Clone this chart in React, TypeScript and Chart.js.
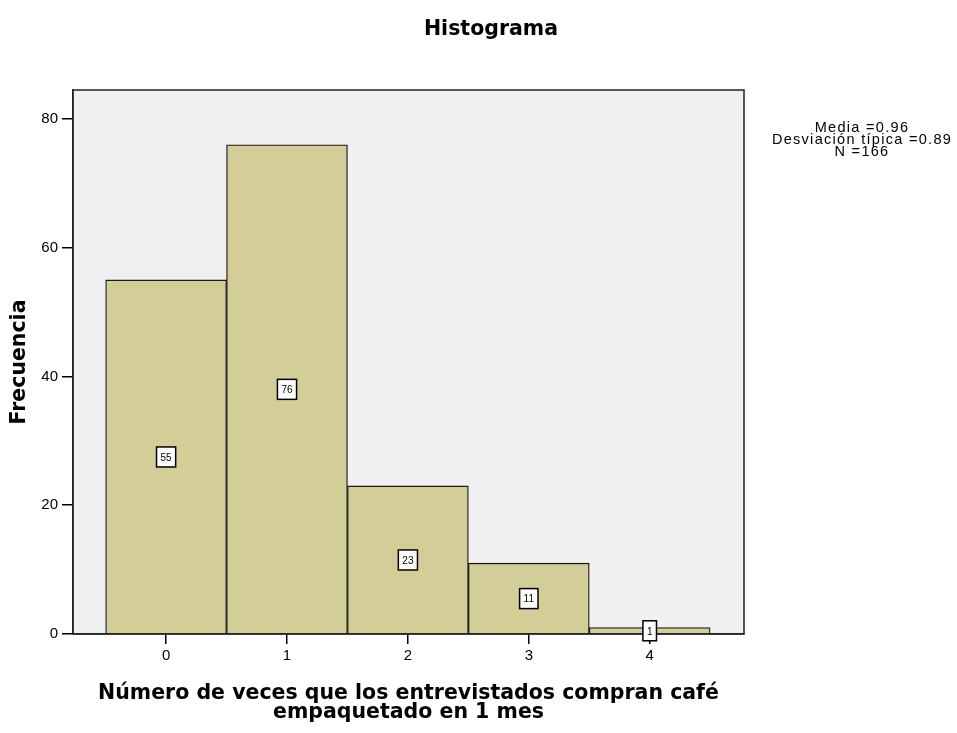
import React, { useEffect, useRef } from "react";
import { Chart, registerables } from "chart.js";

Chart.register(...registerables);

const categories = [0, 1, 2, 3, 4];
const frequencies = [55, 76, 23, 11, 1];
const yTicks = [0, 20, 40, 60, 80];
const titleText = "Histograma";
const yTitle = "Frecuencia";
const xTitleLines = ["Número de veces que los entrevistados compran café", "empaquetado en 1 mes"];
const statsLines = ["Media =0.96", "Desviación típica =0.89", "N =166"];

const FONT = "'Liberation Sans', Arial, sans-serif";
const WIDE = "'DejaVu Sans', Verdana, sans-serif";

export default function App() {
  const ref = useRef<HTMLCanvasElement>(null);
  useEffect(() => {
    document.body.style.margin = "0";
    const canvas = ref.current!;
    const overlay = {
      id: "overlay",
      beforeDraw(chart: any) {
        const { ctx, chartArea: a } = chart;
        ctx.save();
        ctx.fillStyle = "#ffffff";
        ctx.fillRect(0, 0, chart.width, chart.height);
        ctx.fillStyle = "#f0f0f0";
        ctx.fillRect(a.left, a.top, a.right - a.left, a.bottom - a.top);
        ctx.restore();
      },
      afterDraw(chart: any) {
        const { ctx, chartArea: a } = chart;
        const xs = chart.scales.x;
        const ys = chart.scales.y;
        ctx.save();
        // frame
        ctx.strokeStyle = "#222";
        ctx.lineWidth = 1.5;
        ctx.strokeRect(a.left, a.top, a.right - a.left, a.bottom - a.top);
        // value boxes
        ctx.font = `10px ${FONT}`;
        ctx.textAlign = "center";
        ctx.textBaseline = "middle";
        categories.forEach((c, i) => {
          const v = frequencies[i];
          const cx = xs.getPixelForValue(c);
          const cy = ys.getPixelForValue(v / 2);
          const t = String(v);
          const w = Math.max(ctx.measureText(t).width + 8, 13);
          const h = 20;
          ctx.fillStyle = "#fff";
          ctx.fillRect(cx - w / 2, cy - h / 2, w, h);
          ctx.strokeStyle = "#000";
          ctx.lineWidth = 1.5;
          ctx.strokeRect(cx - w / 2, cy - h / 2, w, h);
          ctx.fillStyle = "#000";
          ctx.fillText(t, cx, cy + 1);
        });
        // title
        ctx.fillStyle = "#000";
        ctx.font = `bold 20.5px ${WIDE}`;
        ctx.fillText(titleText, 491, 30);
        // y title
        ctx.save();
        ctx.translate(20, (a.top + a.bottom) / 2);
        ctx.rotate(-Math.PI / 2);
        ctx.font = `bold 20.5px ${WIDE}`;
        ctx.fillText(yTitle, 0, 0);
        ctx.restore();
        // x title
        ctx.font = `bold 20.5px ${WIDE}`;
        const xc = (a.left + a.right) / 2;
        xTitleLines.forEach((l, i) => ctx.fillText(l, xc, 694 + i * 19));
        // stats
        ctx.font = `14.5px ${FONT}`;
        (ctx as any).letterSpacing = "1.3px";
        statsLines.forEach((l, i) => ctx.fillText(l, 862, 128 + i * 12));
        ctx.restore();
      },
    };
    const chart = new Chart(canvas, {
      type: "bar",
      data: {
        datasets: [
          {
            data: categories.map((c, i) => ({ x: c, y: frequencies[i] })),
            backgroundColor: "#d3ce97",
            borderColor: "#1a1a1a",
            borderWidth: 1.3,
            barPercentage: 1,
            categoryPercentage: 1,
          },
        ],
      },
      options: {
        animation: false,
        responsive: false,
        maintainAspectRatio: false,
        layout: { padding: { left: 0, right: 213, top: 90, bottom: 0 } },
        plugins: { legend: { display: false }, tooltip: { enabled: false } },
        scales: {
          x: {
            type: "linear",
            offset: false,
            min: -0.77,
            max: 4.78,
            afterFit(s: any) {
              s.height = 99;
            },
            afterBuildTicks(s: any) {
              s.ticks = categories.map((v) => ({ value: v }));
            },
            grid: { display: true, offset: false, drawOnChartArea: false, drawTicks: true, tickLength: 10, color: "#000", lineWidth: 1.5 },
            border: { display: true, color: "#222", width: 1.5 },
            ticks: { color: "#000", font: { family: FONT, size: 15 }, padding: 3, callback: (v: any) => String(v) },
          },
          y: {
            min: 0,
            max: 84.5,
            afterFit(s: any) {
              s.width = 73;
            },
            afterBuildTicks(s: any) {
              s.ticks = yTicks.map((v) => ({ value: v }));
            },
            grid: { display: true, drawOnChartArea: false, drawTicks: true, tickLength: 11, color: "#000", lineWidth: 1.5 },
            border: { display: true, color: "#222", width: 1.5 },
            ticks: { color: "#000", font: { family: FONT, size: 15 }, padding: 4, callback: (v: any) => String(v) },
          },
        },
      },
      plugins: [overlay],
    });
    return () => chart.destroy();
  }, []);
  return <canvas ref={ref} width={957} height={733} style={{ display: "block" }} />;
}
